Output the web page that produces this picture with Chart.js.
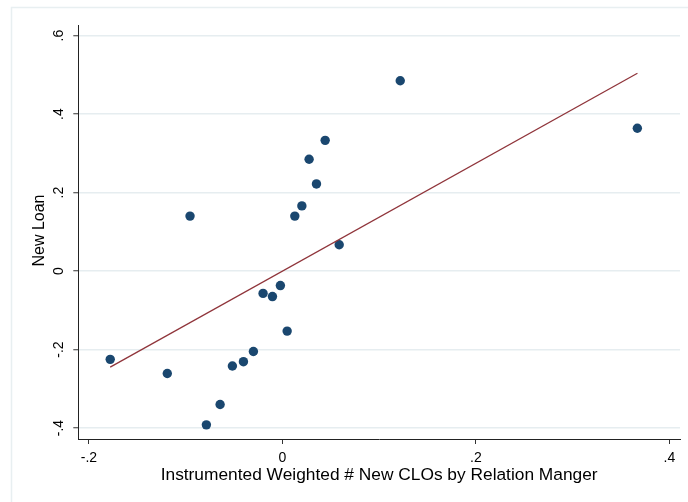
<!DOCTYPE html>
<html>
<head>
<meta charset="utf-8">
<script src="https://cdn.jsdelivr.net/npm/chart.js@4"></script>
<style>
  html, body { margin: 0; padding: 0; background: #ffffff; }
  #wrap { width: 688px; height: 502px; position: relative; }
</style>
</head>
<body>
<div id="wrap"><canvas id="c" width="688" height="502"></canvas></div>
<script>
// ---- data ----
const xValues = [-0.178, -0.119, -0.0786, -0.0644, -0.0517, -0.0403, -0.0300, -0.0200, -0.0103, -0.0021,
                 0.0049, 0.1218, 0.0442, 0.0276, 0.0352, 0.0201, 0.0128, -0.0955, 0.0587, 0.3669];
const yValues = [-0.225, -0.261, -0.392, -0.340, -0.242, -0.231, -0.205, -0.057, -0.065, -0.037,
                 -0.153, 0.485, 0.333, 0.285, 0.222, 0.166, 0.140, 0.140, 0.067, 0.364];
const fitX = [-0.178, 0.367];
const fitY = [-0.245, 0.504];
const xTickValues = [-0.2, 0, 0.2, 0.4];
const xTickLabels = ['-.2', '0', '.2', '.4'];
const yTickValues = [-0.4, -0.2, 0, 0.2, 0.4, 0.6];
const yTickLabels = ['-.4', '-.2', '0', '.2', '.4', '.6'];
const xTitle = 'Instrumented Weighted # New CLOs by Relation Manger';
const yTitle = 'New Loan';

const FONT = '"Liberation Sans", Arial, Helvetica, sans-serif';

const labelPlugin = {
  id: 'stataLabels',
  beforeDraw(chart) {
    const ctx = chart.ctx;
    ctx.save();
    ctx.strokeStyle = '#e8eff1';
    ctx.lineWidth = 1.5;
    ctx.beginPath();
    ctx.moveTo(11.5, 520);
    ctx.lineTo(11.5, 7.5);
    ctx.lineTo(700, 7.5);
    ctx.stroke();
    ctx.restore();
  },
  afterDraw(chart) {
    const ctx = chart.ctx;
    const xs = chart.scales.x, ys = chart.scales.y;
    const area = chart.chartArea;
    ctx.save();
    ctx.fillStyle = '#000';
    ctx.font = '14px ' + FONT;
    ctx.textAlign = 'center';
    ctx.textBaseline = 'alphabetic';
    xTickValues.forEach((v, i) => {
      ctx.fillText(xTickLabels[i], xs.getPixelForValue(v), 461.5);
    });
    yTickValues.forEach((v, i) => {
      ctx.save();
      ctx.translate(63, ys.getPixelForValue(v));
      ctx.rotate(-Math.PI / 2);
      ctx.fillText(yTickLabels[i], 0, 0);
      ctx.restore();
    });
    // x title, sized to the reference's measured width
    ctx.font = '15px ' + FONT;
    const w15 = ctx.measureText(xTitle).width;
    const fs = Math.min(18, 15 * 437 / w15);
    ctx.font = fs.toFixed(2) + 'px ' + FONT;
    ctx.fillText(xTitle, (area.left + area.right) / 2, 480);
    ctx.font = '16px ' + FONT;
    ctx.save();
    ctx.translate(43.5, 230.5);
    ctx.rotate(-Math.PI / 2);
    ctx.fillText(yTitle, 0, 0);
    ctx.restore();
    ctx.restore();
  }
};

const points = xValues.map((x, i) => ({ x: x, y: yValues[i] }));
const fitLine = fitX.map((x, i) => ({ x: x, y: fitY[i] }));

new Chart(document.getElementById('c'), {
  type: 'scatter',
  data: {
    datasets: [
      {
        type: 'line',
        data: fitLine,
        borderColor: '#90353b',
        borderWidth: 1.3,
        pointRadius: 0,
        fill: false,
        tension: 0
      },
      {
        type: 'scatter',
        data: points,
        backgroundColor: '#1a476f',
        borderColor: '#1a476f',
        borderWidth: 0,
        pointRadius: 4.7,
        pointHoverRadius: 4.7
      }
    ]
  },
  options: {
    responsive: false,
    animation: false,
    devicePixelRatio: 1,
    layout: { padding: { left: 0, right: 8, top: 25, bottom: 0 } },
    plugins: { legend: { display: false }, tooltip: { enabled: false } },
    scales: {
      x: {
        type: 'linear',
        min: -0.211,
        max: 0.411,
        afterBuildTicks: s => { s.ticks = xTickValues.map(v => ({ value: v })); },
        afterFit: s => { s.height = 63; },
        ticks: { display: false },
        grid: { drawOnChartArea: false, drawTicks: true, tickLength: 5, tickColor: '#333', tickWidth: 1 },
        border: { display: true, color: '#222', width: 1 }
      },
      y: {
        type: 'linear',
        min: -0.428,
        max: 0.627,
        afterBuildTicks: s => { s.ticks = yTickValues.map(v => ({ value: v })); },
        afterFit: s => { s.width = 78.3; },
        ticks: { display: false },
        grid: { drawOnChartArea: true, color: '#e6edf0', lineWidth: 1.5, drawTicks: true, tickLength: 5, tickColor: '#333', tickWidth: 1 },
        border: { display: true, color: '#222', width: 1 }
      }
    }
  },
  plugins: [labelPlugin]
});
</script>
</body>
</html>
